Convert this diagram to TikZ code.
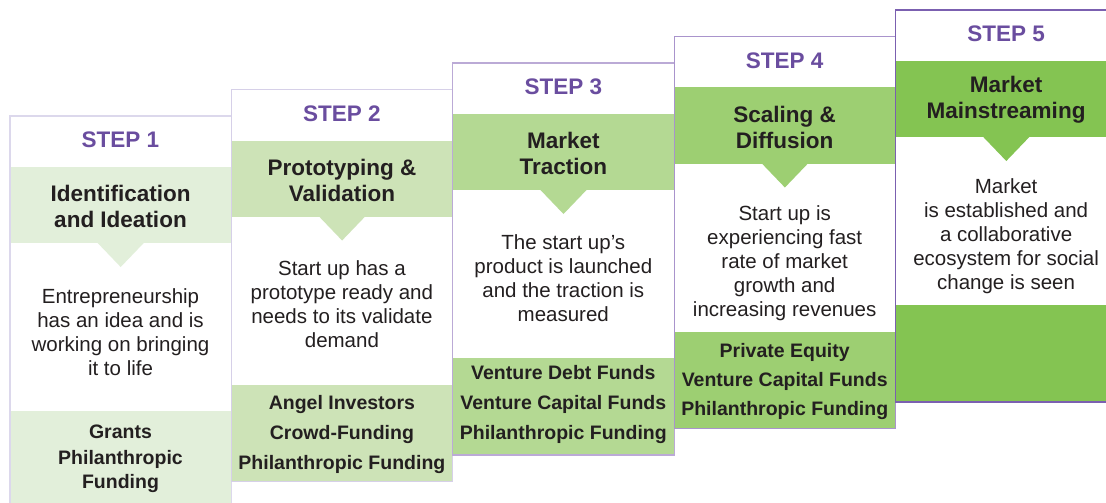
\documentclass[tikz,border=0pt]{standalone}
\usepackage{fontspec}
\setmainfont{Liberation Sans}
\definecolor{stepPurple}{HTML}{6A4D9F}
\definecolor{inkDark}{HTML}{231F20}
\definecolor{gOne}{HTML}{E2EFDA}
\definecolor{gTwo}{HTML}{CDE3B7}
\definecolor{gThree}{HTML}{B4D993}
\definecolor{gFour}{HTML}{9DCF72}
\definecolor{gFive}{HTML}{84C452}
\definecolor{bOne}{HTML}{DCD8EC}
\definecolor{bTwo}{HTML}{D6D0E8}
\definecolor{bThree}{HTML}{BBAAD6}
\definecolor{bFour}{HTML}{A994CC}
\definecolor{bFive}{HTML}{7B60B0}
\newcommand\stepcard[4]{% left, top, green, border
  \fill[white] (#1,#2) rectangle ++(221.4,392);
  \fill[#3] (#1,#2+51) rectangle ++(221.4,76);
  \fill[#3] (#1+86.7,#2+126) -- ++(48,0) -- ++(-24,25) -- cycle;
  \fill[#3] (#1,#2+295) rectangle ++(221.4,97);
  \draw[#4, line width=1.1pt] (#1,#2) rectangle ++(221.4,392);
}
\begin{document}
\begin{tikzpicture}[x=1pt,y=-1pt,
  steplbl/.style={text=stepPurple, font=\fontsize{22.5}{26}\selectfont\bfseries, inner sep=0pt},
  titlelbl/.style={text=inkDark, font=\fontsize{22.5}{26}\selectfont\bfseries, align=center, inner sep=0pt},
  bodylbl/.style={text=inkDark, font=\fontsize{20.5}{24}\selectfont, align=center, inner sep=0pt},
  fundlbl/.style={text=inkDark, font=\fontsize{19.5}{30}\selectfont\bfseries, align=center, inner sep=0pt}]
\useasboundingbox (0,0) rectangle (1106,503);
\clip (0,0) rectangle (1106,503);
\fill[white] (0,0) rectangle (1106,503);

\stepcard{10}{116}{gOne}{bOne}
\stepcard{231.4}{89.5}{gTwo}{bTwo}
\stepcard{452.8}{63}{gThree}{bThree}
\stepcard{674.2}{36.5}{gFour}{bFour}
\stepcard{895.6}{10}{gFive}{bFive}

% Step 1
\node[steplbl] (s1) at (120.5,140) {STEP 1};
\node[titlelbl] (t1) at (120.5,206) {Identification\\and Ideation};
\node[bodylbl] (d1) at (120.5,332) {Entrepreneurship\\has an idea and is\\working on bringing\\it to life};
\node[fundlbl] (f1a) at (120.5,431.5) {Grants};
\node[fundlbl, font=\fontsize{19.5}{24}\selectfont\bfseries] (f1b) at (120.5,471.5) {Philanthropic\\Funding};

% Step 2
\node[steplbl] (s2) at (341.9,113.5) {STEP 2};
\node[titlelbl] (t2) at (341.9,180) {Prototyping \&\\Validation};
\node[bodylbl] (d2) at (341.9,304) {Start up has a\\prototype ready and\\needs to its validate\\demand};
\node[fundlbl] (f2) at (341.9,434) {Angel Investors\\Crowd-Funding\\Philanthropic Funding};

% Step 3
\node[steplbl] (s3) at (563.3,87) {STEP 3};
\node[titlelbl] (t3) at (563.3,153) {Market\\Traction};
\node[bodylbl] (d3) at (563.3,278) {The start up’s\\product is launched\\and the traction is\\measured};
\node[fundlbl] (f3) at (563.3,404) {Venture Debt Funds\\Venture Capital Funds\\Philanthropic Funding};

% Step 4
\node[steplbl] (s4) at (784.7,60.5) {STEP 4};
\node[titlelbl] (t4) at (784.7,127) {Scaling \&\\Diffusion};
\node[bodylbl] (d4) at (784.7,263) {Start up is\\experiencing fast\\rate of market\\growth and\\increasing revenues};
\node[fundlbl, font=\fontsize{19.5}{29}\selectfont\bfseries] (f4) at (784.7,381) {Private Equity\\Venture Capital Funds\\Philanthropic Funding};

% Step 5
\node[steplbl] (s5) at (1006.1,34) {STEP 5};
\node[titlelbl] (t5) at (1006.1,100) {Market\\Mainstreaming};
\node[bodylbl] (d5) at (1006.1,236) {Market\\is established and\\a collaborative\\ecosystem for social\\change is seen};
\end{tikzpicture}
\end{document}
